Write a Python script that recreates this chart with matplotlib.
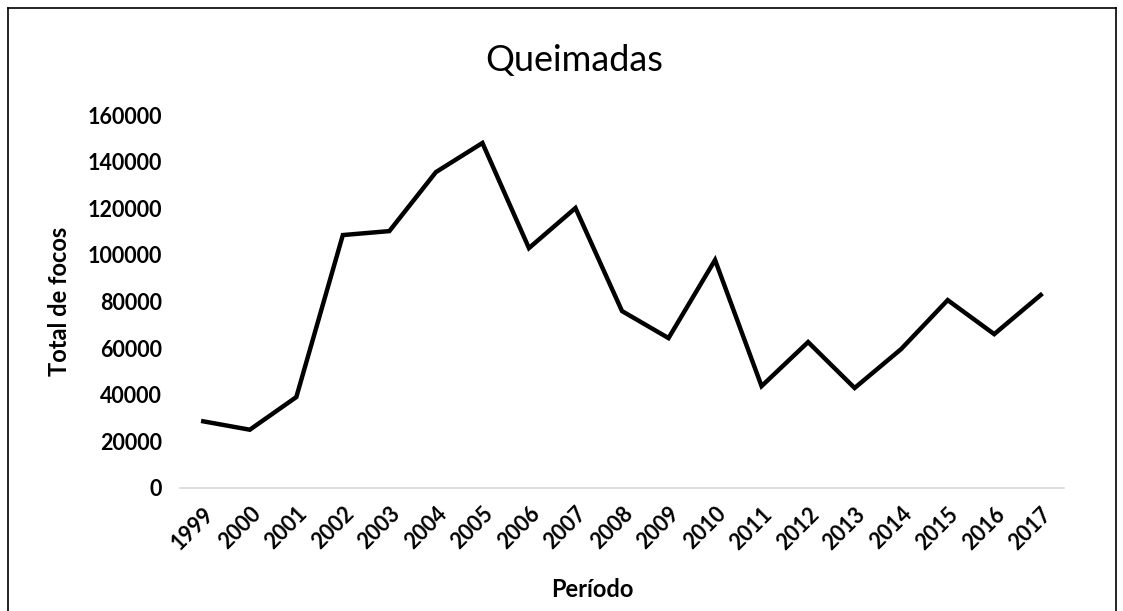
import matplotlib
matplotlib.use("Agg")
import matplotlib.pyplot as plt
from matplotlib.lines import Line2D

anos = ['1999', '2000', '2001', '2002', '2003', '2004', '2005', '2006', '2007', '2008',
        '2009', '2010', '2011', '2012', '2013', '2014', '2015', '2016', '2017']
focos = [28600, 25000, 39000, 108500, 110200, 135500, 148000, 102900, 120100, 75900,
         64300, 97800, 43700, 62600, 42900, 59600, 80600, 66000, 82800]
yticks = [0, 20000, 40000, 60000, 80000, 100000, 120000, 140000, 160000]

plt.rcParams['font.family'] = ['Lato', 'DejaVu Sans']

W, H = 1123, 611
fig = plt.figure(figsize=(W / 100, H / 100), dpi=100)
ax = fig.add_axes([180 / W, (H - 488) / H, (1064 - 180) / W, (488 - 115) / H])

x = list(range(len(anos)))
ax.plot(x, focos, color='black', linewidth=3.2, solid_joinstyle='miter')

ax.set_xlim(-0.5, len(anos) - 0.5)
ax.set_ylim(0, 160000)
ax.set_yticks(yticks)
ax.set_yticklabels([str(v) for v in yticks], fontsize=15.5, fontweight='bold')
ax.set_xticks(x)
ax.set_xticklabels(anos, rotation=45, ha='right', rotation_mode='anchor',
                   fontsize=15.5, fontweight='bold')
ax.tick_params(axis='y', length=0, pad=13)
ax.tick_params(axis='x', length=0, pad=11)

for s in ['top', 'right', 'left']:
    ax.spines[s].set_visible(False)
ax.spines['bottom'].set_color('#d9d9d9')
ax.spines['bottom'].set_linewidth(1.2)

ax.set_ylabel('Total de focos', fontsize=17, fontweight='bold', labelpad=12)
ax.set_xlabel('Período', fontsize=17, fontweight='bold')
ax.xaxis.set_label_coords((592 - 180) / (1064 - 180), -(578 - 488) / (488 - 115))
fig.text(574 / W, 1 - 60 / H, 'Queimadas', ha='center', va='center', fontsize=26)

# borda do gráfico
bx0, bx1, by0 = 8 / W, 1116 / W, 1 - 8 / H
for xs, ys in [([bx0, bx0], [0, by0]), ([bx0, bx1], [by0, by0]), ([bx1, bx1], [by0, 0])]:
    fig.add_artist(Line2D(xs, ys, color='black', linewidth=1.2, transform=fig.transFigure))

fig.savefig('out.png', dpi=100)
